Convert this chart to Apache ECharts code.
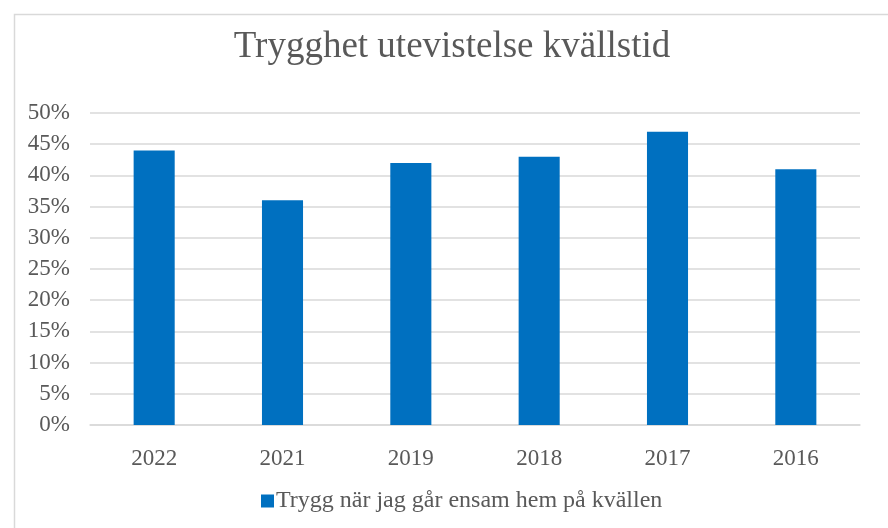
<!DOCTYPE html>
<html><head><meta charset="utf-8">
<script src="https://cdn.jsdelivr.net/npm/echarts@6/dist/echarts.min.js"></script>
<style>html,body{margin:0;padding:0;background:#fff}#c{width:888px;height:528px}</style>
</head><body><div id="c"></div>
<script>
const categories = ['2022','2021','2019','2018','2017','2016'];
const values = [0.44, 0.36, 0.42, 0.43, 0.47, 0.41];
const seriesName = 'Trygg när jag går ensam hem på kvällen';
const titleText = 'Trygghet utevistelse kvällstid';

const font = '"Liberation Serif","Times New Roman",serif';
const chart = echarts.init(document.getElementById('c'), null, {renderer:'canvas'});
chart.setOption({
  animation:false,
  backgroundColor:'#fff',
  graphic:[{type:'rect',left:12,top:12,shape:{width:900,height:600},style:{fill:'none',stroke:'#d9d9d9',lineWidth:1.5},z:-1}],
  title:{text:titleText,left:447,textAlign:'center',top:24,textStyle:{fontFamily:font,fontSize:37,fontWeight:'normal',color:'#595959'}},
  legend:{bottom:10,left:256,itemWidth:13,itemHeight:13,itemGap:5,icon:'rect',
    textStyle:{fontFamily:font,fontSize:24,color:'#595959',padding:[0,0,0,-3]},data:[seriesName]},
  grid:{left:90,right:28,top:113,bottom:103,containLabel:false},
  xAxis:{type:'category',data:categories,axisLine:{lineStyle:{color:'#d9d9d9',width:1.5}},axisTick:{show:false},
    axisLabel:{fontFamily:font,fontSize:23,color:'#595959',margin:22}},
  yAxis:{type:'value',min:0,max:0.5,interval:0.05,axisLine:{show:false},axisTick:{show:false},
    splitLine:{lineStyle:{color:'#d9d9d9',width:1.5}},
    axisLabel:{fontFamily:font,fontSize:23,color:'#595959',margin:20,formatter:v=>Math.round(v*100)+'%'}},
  series:[{name:seriesName,type:'bar',data:values,barWidth:'32%',itemStyle:{color:'#0070C0'}}]
});
</script></body></html>
